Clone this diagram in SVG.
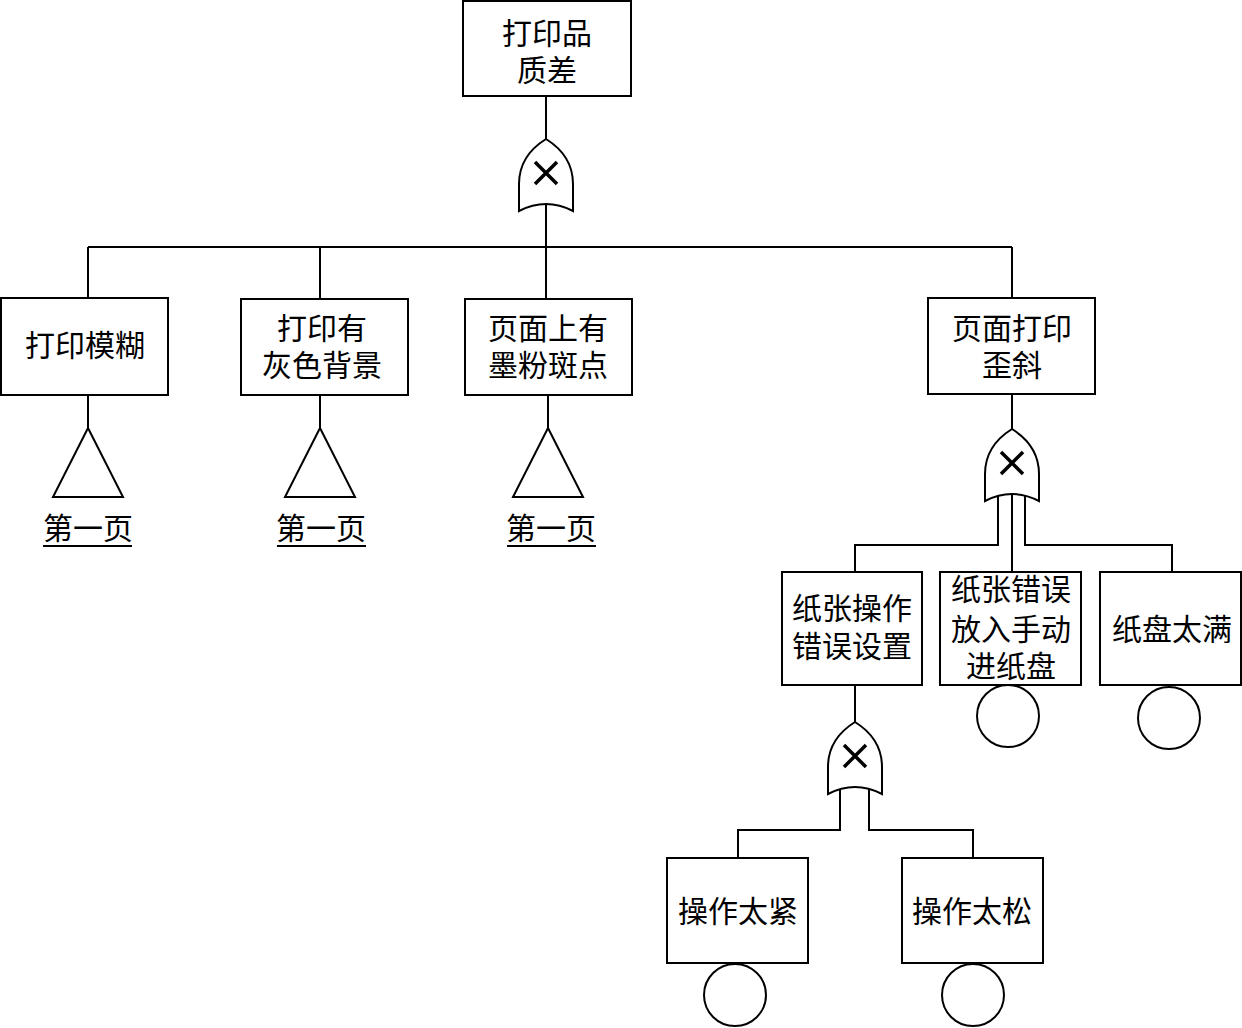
<svg xmlns="http://www.w3.org/2000/svg" width="1242" height="1028" viewBox="0 0 1242 1028">
<style>
.b{fill:#fff;stroke:#000;stroke-width:2}
.c{fill:none;stroke:#000;stroke-width:2}
.t{font-family:"Liberation Serif","Noto Sans CJK SC",serif;font-size:30px;fill:#000;text-anchor:middle}
.x{stroke:#000;stroke-width:3.5;fill:none}
</style>
<defs>
<g id="xor">
<path class="b" d="M0,0 C-16,10 -27,25 -27,45 L-27,72 Q0,58 27,72 L27,45 C27,25 16,10 0,0 Z"/>
<path class="x" d="M-11,23 L11,45 M11,23 L-11,45"/>
</g>
<path id="tri" class="b" d="M0,0 L35,69 L-35,69 Z"/>
</defs>
<rect width="1242" height="1028" fill="#fff"/>
<g id="connectors" class="c">
<path d="M546,96 V139 M546,200 V247 M88,247 H1012 M88,247 V298 M320,247 V299 M546,247 V299 M1012,247 V298"/>
<path d="M88,395 V428 M320,395 V428 M548,395 V428"/>
<path d="M1012,394 V429 M998,492 V545 H855 V572 M1012,490 V572 M1025,492 V545 H1172 V572"/>
<path d="M855,685 V722 M840,785 V830 H738 V858 M869,785 V830 H973 V858"/>
</g>
<g id="n-top"><rect class="b" x="463" y="1" width="168" height="95"/><text class="t" x="547" y="44">打印品</text><text class="t" x="547" y="81">质差</text></g>
<g id="g-top"><use href="#xor" x="546" y="139"/></g>
<g id="n-blur"><rect class="b" x="1" y="298" width="167" height="97"/><text class="t" x="85" y="356">打印模糊</text></g>
<g id="n-gray"><rect class="b" x="241" y="299" width="167" height="96"/><text class="t" x="322" y="339">打印有</text><text class="t" x="322" y="376">灰色背景</text></g>
<g id="n-spot"><rect class="b" x="465" y="299" width="167" height="96"/><text class="t" x="548" y="339">页面上有</text><text class="t" x="548" y="376">墨粉斑点</text></g>
<g id="n-skew"><rect class="b" x="928" y="298" width="167" height="96"/><text class="t" x="1012" y="339">页面打印</text><text class="t" x="1012" y="376">歪斜</text></g>
<g id="t1"><use href="#tri" x="88" y="428"/><text class="t" x="88" y="539">第一页</text><path class="c" d="M43,546 H132"/></g>
<g id="t2"><use href="#tri" x="320" y="428"/><text class="t" x="321" y="539">第一页</text><path class="c" d="M277,546 H366"/></g>
<g id="t3"><use href="#tri" x="548" y="428"/><text class="t" x="551" y="539">第一页</text><path class="c" d="M507,546 H596"/></g>
<g id="g-skew"><use href="#xor" x="1012" y="429"/></g>
<g id="n-setting"><rect class="b" x="782" y="572" width="140" height="113"/><text class="t" x="852" y="619">纸张操作</text><text class="t" x="852" y="657">错误设置</text></g>
<g id="n-manual"><rect class="b" x="940" y="572" width="141" height="113"/><text class="t" x="1011" y="600">纸张错误</text><text class="t" x="1011" y="640">放入手动</text><text class="t" x="1011" y="677">进纸盘</text><circle class="b" cx="1008" cy="716" r="31"/></g>
<g id="n-full"><rect class="b" x="1100" y="572" width="141" height="113"/><text class="t" x="1172" y="640">纸盘太满</text><circle class="b" cx="1169" cy="718" r="31"/></g>
<g id="g-setting"><use href="#xor" x="855" y="722"/></g>
<g id="n-tight"><rect class="b" x="667" y="858" width="141" height="105"/><text class="t" x="738" y="922">操作太紧</text><circle class="b" cx="735" cy="995" r="31"/></g>
<g id="n-loose"><rect class="b" x="902" y="858" width="141" height="105"/><text class="t" x="972" y="922">操作太松</text><circle class="b" cx="973" cy="995" r="31"/></g>
</svg>
